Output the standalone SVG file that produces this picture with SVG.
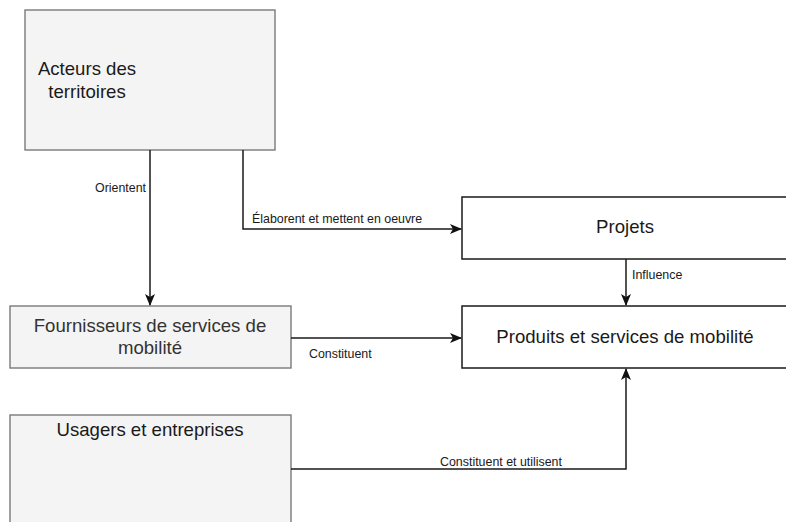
<svg xmlns="http://www.w3.org/2000/svg" width="786" height="522" viewBox="0 0 786 522">
  <style>
    .grey { fill: #f4f4f4; stroke: #7a7a7a; stroke-width: 1.4; }
    .white { fill: #ffffff; stroke: #1a1a1a; stroke-width: 1.5; }
    .title { font-family: "Liberation Sans", Arial, sans-serif; font-size: 18.6px; fill: #1a1a1a; text-anchor: middle; }
    .title.soft { fill: #333333; }
    .edge { fill: none; stroke: #1a1a1a; stroke-width: 1.5; }
    .lbl { font-family: "Liberation Sans", Arial, sans-serif; font-size: 12.4px; fill: #1a1a1a; }
  </style>
  <defs>
    <marker id="arrow" viewBox="0 0 12 12" refX="11" refY="6" markerWidth="12" markerHeight="12" markerUnits="userSpaceOnUse" orient="auto">
      <path d="M0,1 L12,6 L0,11 L3,6 Z" fill="#111111"/>
    </marker>
  </defs>
  <rect width="786" height="522" fill="#ffffff"/>

  <g id="acteurs">
    <rect class="grey" x="25" y="10" width="250" height="140"/>
    <text class="title" x="87" y="75">Acteurs des</text>
    <text class="title" x="87" y="98">territoires</text>
  </g>

  <g id="fournisseurs">
    <rect class="grey" x="10" y="306" width="281" height="62"/>
    <text class="title soft" x="150" y="332">Fournisseurs de services de</text>
    <text class="title soft" x="150" y="354">mobilité</text>
  </g>

  <g id="usagers">
    <rect class="grey" x="10" y="415" width="281" height="120"/>
    <text class="title" x="150" y="436">Usagers et entreprises</text>
  </g>

  <g id="projets">
    <rect class="white" x="462" y="197" width="330" height="62"/>
    <text class="title" x="625" y="233">Projets</text>
  </g>

  <g id="produits">
    <rect class="white" x="462" y="306" width="330" height="62"/>
    <text class="title" x="625" y="343">Produits et services de mobilité</text>
  </g>

  <g id="connectors">
    <path class="edge" d="M150,150 V305" marker-end="url(#arrow)"/>
    <text class="lbl" x="146" y="192" text-anchor="end">Orientent</text>

    <path class="edge" d="M243,150 V229 H461" marker-end="url(#arrow)"/>
    <text class="lbl" x="252" y="223">Élaborent et mettent en oeuvre</text>

    <path class="edge" d="M626,259 V305" marker-end="url(#arrow)"/>
    <text class="lbl" x="632" y="279">Influence</text>

    <path class="edge" d="M291,338 H461" marker-end="url(#arrow)"/>
    <text class="lbl" x="309" y="358">Constituent</text>

    <path class="edge" d="M291,469 H626 V369" marker-end="url(#arrow)"/>
    <text class="lbl" x="501" y="466" text-anchor="middle">Constituent et utilisent</text>
  </g>
</svg>
